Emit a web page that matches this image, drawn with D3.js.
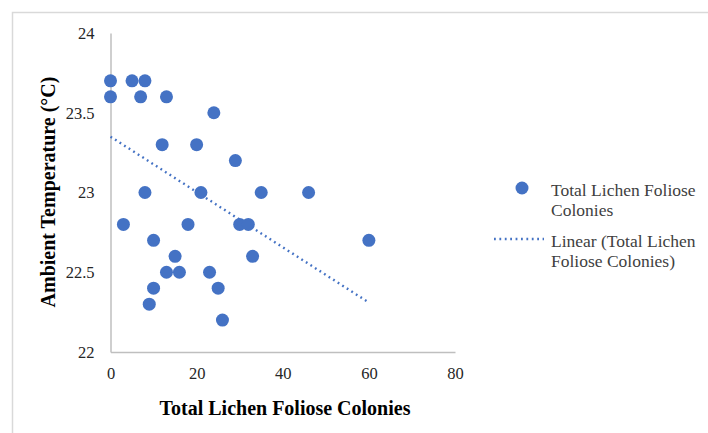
<!DOCTYPE html>
<meta charset="utf-8">
<style>
body { margin: 0; background: #fff; }
text { font-family: "Liberation Serif", "Times New Roman", serif; }
.tick-label { font-size: 16.5px; fill: #262626; }
.axis-title { font-size: 20px; font-weight: bold; fill: #000; }
.legend text { font-size: 17.5px; fill: #404040; }
.dot { fill: #4472c4; }
.trend { fill: none; stroke: #4472c4; stroke-width: 2.4px; stroke-dasharray: 1.8 3.6; }
</style>
<svg width="708" height="433"></svg>
<script src="https://d3js.org/d3.v7.min.js"></script>
<script>
// colonies counted vs ambient temperature
var colonies = [0, 5, 8, 0, 7, 13, 24, 12, 20, 29, 8, 21, 35, 46, 60,
                3, 18, 30, 32, 10, 15, 33, 13, 16, 23, 10, 25, 9, 26];
var temps = [23.7, 23.7, 23.7, 23.6, 23.6, 23.6, 23.5, 23.3, 23.3, 23.2, 23.0, 23.0, 23.0, 23.0, 22.7,
             22.8, 22.8, 22.8, 22.8, 22.7, 22.6, 22.6, 22.5, 22.5, 22.5, 22.4, 22.4, 22.3, 22.2];
// linear trend end points
var trendX = [0, 60];
var trendY = [23.35, 22.31];
var xTicks = [0, 20, 40, 60, 80];
var yTicks = [22, 22.5, 23, 23.5, 24];

var svg = d3.select("svg");

// outer chart border
svg.append("rect")
    .attr("x", 12.5).attr("y", 12.5)
    .attr("width", 720).attr("height", 440)
    .attr("fill", "none")
    .attr("stroke", "#d9d9d9")
    .attr("stroke-width", 1.5);

var x = d3.scaleLinear().domain([0, 80]).range([110.5, 455]),
    y = d3.scaleLinear().domain([22, 24]).range([352, 33]);

// axes, no tick marks
svg.append("g")
    .attr("transform", "translate(0,352)")
    .call(d3.axisBottom(x).tickValues(xTicks).tickSize(0).tickPadding(15).tickFormat(d3.format("d")))
    .call(function(g) {
      g.select(".domain").attr("stroke", "#bfbfbf").attr("stroke-width", 1.5);
      g.selectAll("text").attr("class", "tick-label").attr("fill", null);
    });

svg.append("g")
    .attr("transform", "translate(110.5,0)")
    .call(d3.axisLeft(y).tickValues(yTicks).tickSize(0).tickPadding(16).tickFormat(function(d) { return d3.format("")(d); }))
    .call(function(g) {
      g.select(".domain").attr("stroke", "#bfbfbf").attr("stroke-width", 1.5);
      g.selectAll("text").attr("class", "tick-label").attr("fill", null);
    });

// axis titles
svg.append("text")
    .attr("class", "axis-title")
    .attr("x", 285).attr("y", 415)
    .attr("text-anchor", "middle")
    .text("Total Lichen Foliose Colonies");

svg.append("text")
    .attr("class", "axis-title")
    .attr("transform", "translate(55,192) rotate(-90)")
    .attr("text-anchor", "middle")
    .text("Ambient Temperature (°C)");

// trend line
var line = d3.line()
    .x(function(d) { return x(d[0]); })
    .y(function(d) { return y(d[1]); });

svg.append("path")
    .datum(d3.zip(trendX, trendY))
    .attr("class", "trend")
    .attr("d", line);

// points
svg.selectAll("circle.dot")
    .data(d3.zip(colonies, temps))
  .enter().append("circle")
    .attr("class", "dot")
    .attr("cx", function(d) { return x(d[0]); })
    .attr("cy", function(d) { return y(d[1]); })
    .attr("r", 6.5);

// legend
var legend = svg.append("g").attr("class", "legend");
legend.append("circle")
    .attr("class", "dot")
    .attr("cx", 522).attr("cy", 188).attr("r", 6.5);
legend.append("text").attr("x", 551).attr("y", 196).text("Total Lichen Foliose");
legend.append("text").attr("x", 551).attr("y", 216).text("Colonies");
legend.append("line")
    .attr("class", "trend")
    .attr("x1", 494).attr("x2", 544)
    .attr("y1", 239).attr("y2", 239);
legend.append("text").attr("x", 551).attr("y", 247).text("Linear (Total Lichen");
legend.append("text").attr("x", 551).attr("y", 267).text("Foliose Colonies)");
</script>
